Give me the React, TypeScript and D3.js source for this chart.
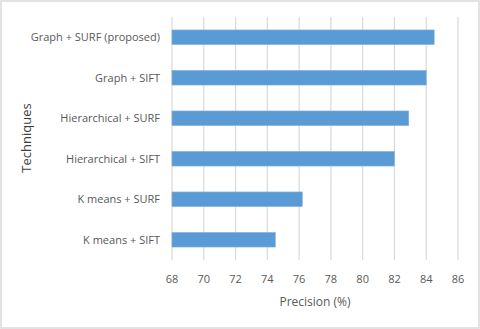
import { useEffect } from 'react';
import * as d3 from 'd3';

const techniques = [
    'Graph + SURF (proposed)',
    'Graph + SIFT',
    'Hierarchical + SURF',
    'Hierarchical + SIFT',
    'K means + SURF',
    'K means + SIFT',
];
const precision = [84.5, 84.0, 82.9, 82.0, 76.2, 74.5];
const xTicks = [68, 70, 72, 74, 76, 78, 80, 82, 84, 86];

const App = () => {
    useEffect(() => {
        document.body.style.margin = '0';
    }, []);

    const width = 480, height = 329;
    const margin = { top: 17, right: 22, bottom: 69, left: 172 };
    const font = "'Open Sans', 'Noto Sans', sans-serif";
    const textColor = '#595959';

    const getX = d3.scaleLinear().domain([68, 86]).range([margin.left, width - margin.right]);
    const getY = d3.scaleBand().domain(techniques).range([margin.top, height - margin.bottom]).paddingInner(0.64).paddingOuter(0.32);

    return (
        <svg width={width} height={height} style={{ display: 'block' }} fontFamily={font}>
            <rect x={0} y={0} width={width} height={height} fill="#fff" />
            <rect x={1} y={1} width={width - 2} height={height - 2} fill="none" stroke="#d9d9d9" strokeWidth={1.5} />

            {xTicks.map((t) => (
                <g key={t}>
                    <line x1={getX(t)} x2={getX(t)} y1={margin.top} y2={height - margin.bottom} stroke="#d9d9d9" strokeWidth={1.2} />
                    <text x={getX(t)} y={283} textAnchor="middle" fontSize={11} fill={textColor}>{t}</text>
                </g>
            ))}

            {techniques.map((name, i) => (
                <g key={name}>
                    <rect
                        x={getX(68)}
                        y={getY(name)}
                        width={getX(precision[i]) - getX(68)}
                        height={getY.bandwidth()}
                        fill="#5b9bd5"
                        stroke="#7fb1de"
                        strokeWidth={0.6}
                    />
                    <text
                        x={margin.left - 12}
                        y={getY(name) + getY.bandwidth() / 2}
                        dy="0.35em"
                        textAnchor="end"
                        fontSize={11}
                        fill={textColor}>
                        {name}
                    </text>
                </g>
            ))}

            <text x={(getX(68) + getX(86)) / 2} y={306} textAnchor="middle" fontSize={12} fill={textColor}>Precision (%)</text>
            <text transform="translate(31,138) rotate(-90)" textAnchor="middle" fontSize={13} fill="#404040">Techniques</text>
        </svg>
    );
};

export default App;
